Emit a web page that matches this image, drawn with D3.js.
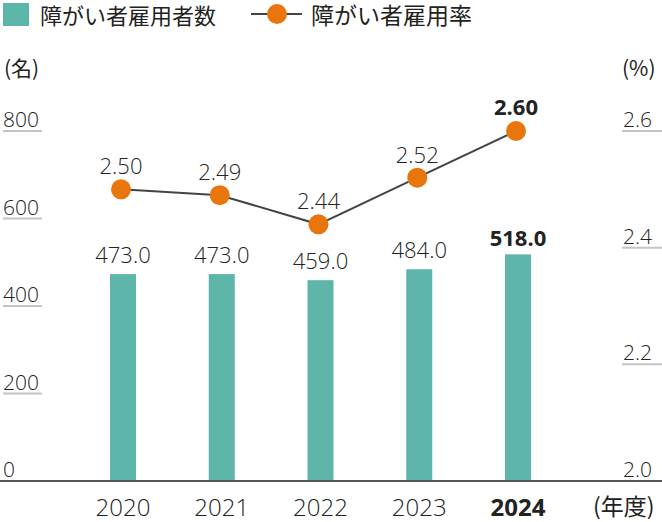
<!DOCTYPE html>
<html>
<head>
<meta charset="utf-8">
<script src="https://cdn.jsdelivr.net/npm/d3@7"></script>
<style>
  body { margin: 0; background: #fff; }
  text { font-family: "Noto Sans CJK JP", "Noto Sans", sans-serif; fill: #222; }
  text.num { font-family: "Open Sans", "Noto Sans", sans-serif; }
</style>
</head>
<body>
<div id="chart-area"></div>
<script>
// data
let years = ["2020", "2021", "2022", "2023", "2024"];
let employees = [473, 473, 459, 484, 518];
let rates = [2.50, 2.49, 2.44, 2.52, 2.60];
let leftTicks = [0, 200, 400, 600, 800];
let rightTicks = [2.0, 2.2, 2.4, 2.6];

let W = 662, H = 522;
let barColor = "#5eb5aa", dotColor = "#e8760c";

let svg = d3.select("#chart-area")
    .append("svg")
    .attr("width", W)
    .attr("height", H);

// Scales
let x = d3.scalePoint()
    .domain(years)
    .range([123, 518]);

let yLeft = d3.scaleLinear()
    .domain([0, 800])
    .range([481, 131]);

let yRight = d3.scaleLinear()
    .domain([2.0, 2.6])
    .range([481, 131]);

// Left ticks
let lt = svg.append("g").selectAll("g")
    .data(leftTicks)
    .enter().append("g");
lt.filter(d => d > 0).append("line")
    .attr("x1", 3).attr("x2", 42)
    .attr("y1", d => yLeft(d)).attr("y2", d => yLeft(d))
    .attr("stroke", "#c4c4c4")
    .attr("stroke-width", 2);
lt.append("text")
    .attr("class", "num")
    .attr("x", 3)
    .attr("y", d => yLeft(d) - 4)
    .attr("font-size", "21px")
    .attr("font-weight", 300)
    .text(d => d);

// Right ticks
let rt = svg.append("g").selectAll("g")
    .data(rightTicks)
    .enter().append("g");
rt.filter(d => d > 2.0).append("line")
    .attr("x1", 622).attr("x2", 662)
    .attr("y1", d => yRight(d)).attr("y2", d => yRight(d))
    .attr("stroke", "#c4c4c4")
    .attr("stroke-width", 2);
rt.append("text")
    .attr("class", "num")
    .attr("x", 652)
    .attr("y", d => yRight(d) - 4)
    .attr("font-size", "21px")
    .attr("font-weight", 300)
    .attr("text-anchor", "end")
    .text(d => d.toFixed(1));

// Unit labels
svg.append("text").attr("x", 4).attr("y", 76)
    .attr("font-size", "21px").text("(名)");
svg.append("text").attr("x", 622).attr("y", 76)
    .attr("font-size", "21px").text("(%)");

// Bars
svg.append("g").selectAll("rect")
    .data(employees)
    .enter().append("rect")
    .attr("x", (d, i) => x(years[i]) - 13)
    .attr("y", d => yLeft(d))
    .attr("width", 26)
    .attr("height", d => yLeft(0) - yLeft(d))
    .attr("fill", barColor);

svg.append("g").selectAll("text")
    .data(employees)
    .enter().append("text")
    .attr("class", "num")
    .attr("x", (d, i) => x(years[i]))
    .attr("y", (d, i) => yLeft(d) - (i === 4 ? 8 : 11))
    .attr("text-anchor", "middle")
    .attr("font-size", "22px")
    .attr("font-weight", (d, i) => i === 4 ? 700 : 300)
    .text(d => d.toFixed(1));

// Baseline
svg.append("line")
    .attr("x1", 0).attr("x2", W)
    .attr("y1", 481).attr("y2", 481)
    .attr("stroke", "#555")
    .attr("stroke-width", 2);

// Rate line
let line = d3.line()
    .x((d, i) => x(years[i]) - 2)
    .y(d => yRight(d));

svg.append("path")
    .datum(rates)
    .attr("d", line)
    .attr("fill", "none")
    .attr("stroke", "#444")
    .attr("stroke-width", 2);

svg.append("g").selectAll("circle")
    .data(rates)
    .enter().append("circle")
    .attr("cx", (d, i) => x(years[i]) - 2)
    .attr("cy", d => yRight(d))
    .attr("r", 10)
    .attr("fill", dotColor);

svg.append("g").selectAll("text")
    .data(rates)
    .enter().append("text")
    .attr("class", "num")
    .attr("x", (d, i) => x(years[i]) - 2)
    .attr("y", (d, i) => yRight(d) - (i === 4 ? 16 : 15))
    .attr("text-anchor", "middle")
    .attr("font-size", "22px")
    .attr("font-weight", (d, i) => i === 4 ? 700 : 300)
    .text(d => d.toFixed(2));

// X labels
svg.append("g").selectAll("text")
    .data(years)
    .enter().append("text")
    .attr("class", "num")
    .attr("x", d => x(d))
    .attr("y", 516)
    .attr("text-anchor", "middle")
    .attr("font-size", "24px")
    .attr("font-weight", (d, i) => i === 4 ? 700 : 300)
    .text(d => d);
svg.append("text").attr("x", 593).attr("y", 515)
    .attr("font-size", "23px").text("(年度)");

// Legend
svg.append("rect")
    .attr("x", 3).attr("y", 3)
    .attr("width", 26).attr("height", 23)
    .attr("fill", barColor);
svg.append("text").attr("x", 40).attr("y", 24)
    .attr("font-size", "22px").text("障がい者雇用者数");
svg.append("line")
    .attr("x1", 251).attr("x2", 302)
    .attr("y1", 14).attr("y2", 14)
    .attr("stroke", "#444").attr("stroke-width", 2);
svg.append("circle")
    .attr("cx", 277).attr("cy", 14).attr("r", 10)
    .attr("fill", dotColor);
svg.append("text").attr("x", 311).attr("y", 24)
    .attr("font-size", "23px").text("障がい者雇用率");
</script>
</body>
</html>
